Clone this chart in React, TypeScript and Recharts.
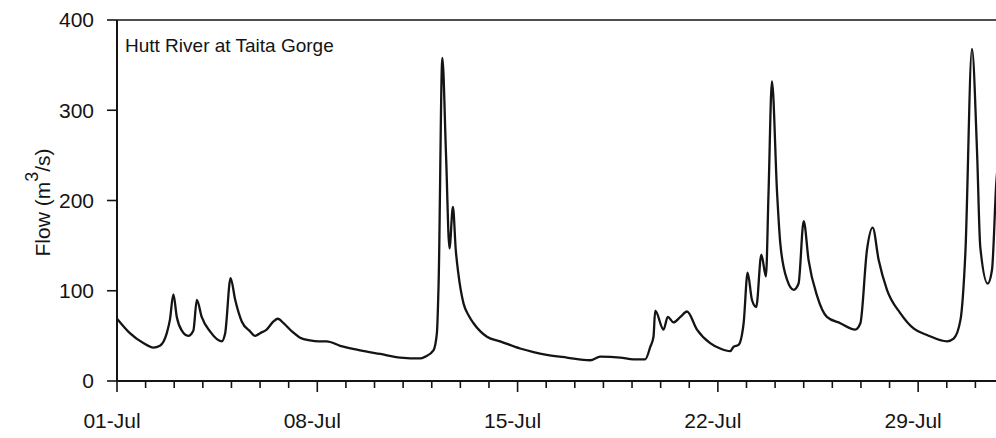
import React from "react";
import { LineChart, Line, XAxis, YAxis, ReferenceLine } from "recharts";

// Time in days since 01-Jul 00:00
const day: number[] = [
  0, 0.45, 0.92, 1.27, 1.5, 1.74, 1.85, 1.97, 2.09, 2.26, 2.49, 2.67, 2.79, 2.96, 3.25, 3.66, 3.78, 3.97,
  4.13, 4.36, 4.65, 4.83, 5.0, 5.23, 5.47, 5.62, 5.82, 6.11, 6.4, 6.75, 7.04, 7.33, 7.8, 8.5, 9.2, 9.9,
  10.6, 10.77, 11.06, 11.18, 11.24, 11.37, 11.5, 11.62, 11.74, 11.84, 11.93, 12.11, 12.3, 12.46, 12.7,
  12.93, 13.39, 14.09, 14.56, 15.02, 15.72, 16.54, 16.89, 17.59, 18.05, 18.46, 18.64, 18.75, 18.81, 19.1,
  19.25, 19.45, 19.69, 19.92, 20.27, 20.73, 21.08, 21.43, 21.55, 21.72, 21.9, 22.04, 22.19, 22.34, 22.52,
  22.68, 22.77, 22.89, 23.07, 23.18, 23.42, 23.65, 23.82, 24.0, 24.17, 24.47, 24.81, 25.28, 25.8, 25.98,
  26.21, 26.41, 26.62, 26.91, 27.38, 27.85, 28.31, 29.01, 29.24, 29.48, 29.65, 29.88, 30.06, 30.17, 30.43,
  30.58, 30.73, 30.85,
];

// Flow (m3/s)
const flow: number[] = [
  69, 53, 42, 37, 39, 53, 68, 96, 71, 56, 50, 56, 90, 71, 55, 44, 53, 114,
  90, 66, 55, 50, 53, 57, 66, 69, 64, 55, 48, 45, 44, 44, 39, 34, 30, 26,
  25, 27, 34, 53, 108, 358, 250, 147, 193, 145, 119, 86, 72, 64, 55,
  49, 44, 36, 32, 29, 26, 23, 27, 26, 24, 24, 38, 49, 78, 57,
  71, 65, 71, 77, 57, 42, 36, 33, 38, 40, 64, 120, 90, 82, 140,
  116, 208, 332, 208, 153, 112, 101, 108, 177, 134, 94, 71, 64, 57, 64,
  145, 170, 134, 101, 75, 58, 51, 44, 47, 68, 142, 368, 252, 149, 108,
  123, 219, 260,
];

const dayTicks: number[] = Array.from({ length: 32 }, (_, i) => i);
const tickLabels: string[] = ["01-Jul", "08-Jul", "15-Jul", "22-Jul", "29-Jul"];
const labelledDays: number[] = [0, 7, 14, 21, 28];
const flowTicks: number[] = [0, 100, 200, 300, 400];

const title = "Hutt River at Taita Gorge";

const data = day.map((d, i) => ({ day: d, flow: flow[i] }));

const FONT = "'Liberation Sans', Arial, Helvetica, sans-serif";
const INK = "#141414";

const DayTick = (props: any) => {
  const { x, y, payload } = props;
  const idx = labelledDays.indexOf(payload.value);
  const major = idx >= 0;
  return (
    <g>
      <line x1={x} x2={x} y1={y} y2={y + (major ? 11 : 7)} stroke={INK} strokeWidth={1.6} />
      {major && (
        <text x={x - 5} y={y + 47} textAnchor="middle" fontSize={21} fontFamily={FONT} fill={INK}>
          {tickLabels[idx]}
        </text>
      )}
    </g>
  );
};

const YTitle = (props: any) => {
  const vb = props.viewBox || { x: 0, y: 0, width: 0, height: 0 };
  const cx = vb.x + 50;
  const cy = vb.y + vb.height / 2 + 2;
  return (
    <text
      x={cx}
      y={cy}
      transform={`rotate(-90, ${cx}, ${cy})`}
      textAnchor="middle"
      fontSize={21}
      fontFamily={FONT}
      fill={INK}
    >
      Flow (m
      <tspan fontSize={18} dy={-12}>3</tspan>
      <tspan dy={12}>/s)</tspan>
    </text>
  );
};

const ChartTitle = (props: any) => {
  const vb = props.viewBox || { x: 0, y: 0 };
  return (
    <text x={vb.x + 8} y={vb.y + 32} fontSize={19} fontFamily={FONT} fill={INK}>
      {title}
    </text>
  );
};

export default function App() {
  return (
    <div
      style={{
        position: "fixed",
        left: 0,
        top: 0,
        width: 996,
        height: 438,
        overflow: "hidden",
        background: "#fff",
      }}
    >
      <LineChart
        width={1004}
        height={438}
        data={data}
        margin={{ top: 20, right: 0, bottom: 0, left: 0 }}
      >
        <XAxis
          dataKey="day"
          type="number"
          domain={[0, 31]}
          ticks={dayTicks}
          interval={0}
          tickSize={0}
          tickMargin={0}
          tickLine={false}
          tick={<DayTick />}
          height={57}
          axisLine={{ stroke: INK, strokeWidth: 2 }}
          allowDataOverflow
        />
        <YAxis
          type="number"
          domain={[0, 400]}
          ticks={flowTicks}
          interval={0}
          width={117}
          tickSize={10}
          tickMargin={13}
          axisLine={{ stroke: INK, strokeWidth: 2 }}
          tickLine={{ stroke: INK, strokeWidth: 1.6 }}
          tick={{ fontSize: 21, fontFamily: FONT, fill: INK }}
          label={<YTitle />}
        />
        <ReferenceLine y={400} stroke={INK} strokeWidth={1.6} label={<ChartTitle />} />
        <Line
          type="monotone"
          dataKey="flow"
          stroke={INK}
          strokeWidth={2.3}
          dot={false}
          isAnimationActive={false}
        />
      </LineChart>
    </div>
  );
}
